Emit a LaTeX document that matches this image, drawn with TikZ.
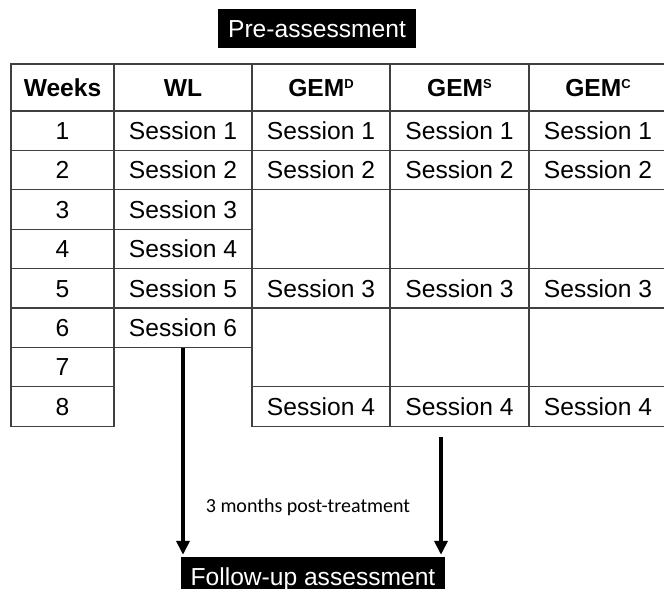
\documentclass[tikz,border=0pt]{standalone}
\usepackage{fontspec}
\setmainfont{Liberation Sans}
\newfontfamily\calibri{Carlito}
\usetikzlibrary{positioning, arrows.meta}
\newcommand{\grpsup}[1]{\raisebox{8.2pt}{\fontsize{13}{13}\selectfont #1}}

\begin{document}
\begin{tikzpicture}[x=1pt, y=-1pt]
                \tikzstyle{every node}=[font=\fontsize{24.6}{29}\selectfont]
                \tikzstyle{cell} = [rectangle, draw=black!75, line width=1.3pt, inner sep=0pt, text height=17.7pt, text depth=0pt, minimum height=39.4pt]
                \tikzstyle{head} = [cell, minimum height=47pt, font=\fontsize{24.6}{29}\selectfont\bfseries]
                \tikzstyle{banner} = [rectangle, fill=black, text=white, inner xsep=10pt, inner ysep=0pt, minimum height=39pt, text height=17.7pt, text depth=0pt]
                \tikzstyle{arrow} = [line width=3.5pt, -{Triangle[width=13pt, length=14pt]}, shorten >=2pt]

                \useasboundingbox (0,0) rectangle (664,589);
                \clip (0,0) rectangle (664,589);

                \node[banner](pre) at (317, 28.5) {Pre-assessment};

                % header row
                \node[head, minimum width=103pt](wkh) at (62.5, 87.5) {Weeks};
                \node[head, minimum width=138pt](wlh) at (183, 87.5) {WL};
                \foreach \c/\x/\s in {gd/321/D, gs/459.5/S, gc/598/C}
                    \node[head, minimum width=138pt](\c h) at (\x, 87.5) {GEM\grpsup{\s}};

                % weeks and waiting list
                \foreach \i in {1,...,8}
                    \node[cell, minimum width=103pt](wk\i) at (62.5, {111+(\i-0.5)*39.4}) {\i};
                \foreach \i in {1,...,6}
                    \node[cell, minimum width=138pt](wl\i) at (183, {111+(\i-0.5)*39.4}) {Session \i};

                % GEM groups
                \foreach \c/\x in {gd/321, gs/459.5, gc/598} {
                    \node[cell, minimum width=138pt](\c1) at (\x, 130.7) {Session 1};
                    \node[cell, minimum width=138pt](\c2) at (\x, 170.1) {Session 2};
                    \node[cell, minimum width=138pt, minimum height=78.8pt](\c34) at (\x, 229.2) {};
                    \node[cell, minimum width=138pt](\c5) at (\x, 288.3) {Session 3};
                    \node[cell, minimum width=138pt, minimum height=78.8pt](\c67) at (\x, 347.4) {};
                    \node[cell, minimum width=138pt](\c8) at (\x, 406.5) {Session 4};
                }

                % follow-up
                \node[banner](fu) at (313, 576.5) {Follow-up assessment};
                \coordinate (gsend) at (441, 437);
                \draw[arrow] (wl6.south) -- (wl6.south |- fu.north);
                \draw[arrow] (gsend) -- (gsend |- fu.north);

                \node[font=\calibri\fontsize{20}{24}\selectfont, text height=13pt, text depth=0pt](lbl) at (308, 506) {3 months post-treatment};

\end{tikzpicture}
\end{document}
